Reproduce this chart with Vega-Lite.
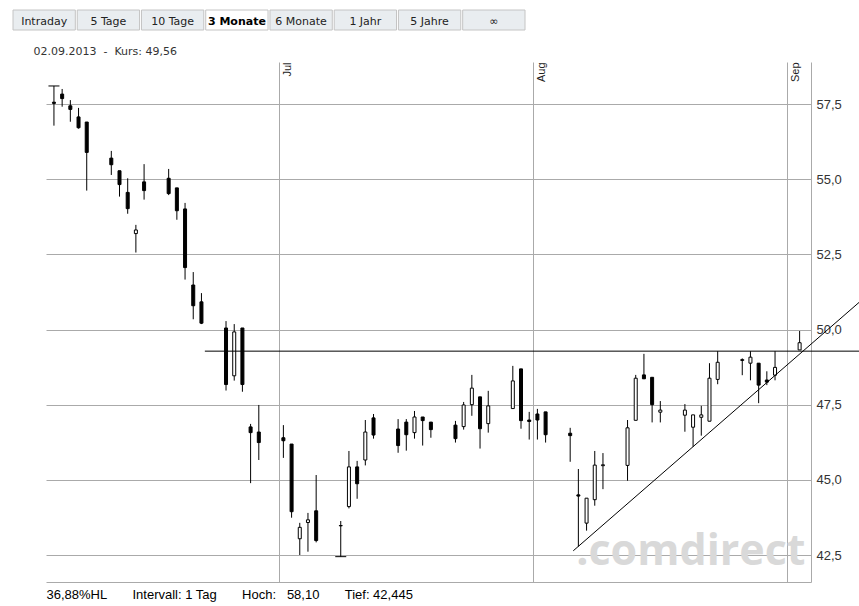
{
  "$schema": "https://vega.github.io/schema/vega-lite/v6.json",
  "width": 765,
  "height": 520,
  "autosize": {"type": "none"},
  "padding": {"left": 46, "top": 62, "right": 48, "bottom": 24},
  "background": "white",
  "config": {"view": {"stroke": null}, "font": "Liberation Sans"},
  "datasets": {
    "tabs": [
      {"tab": "Intraday"}, {"tab": "5 Tage"}, {"tab": "10 Tage"}, {"tab": "3 Monate"},
      {"tab": "6 Monate"}, {"tab": "1 Jahr"}, {"tab": "5 Jahre"}, {"tab": "∞"}
    ],
    "candles": [
      {"date": "2013-06-03T12:00", "open": 57.56, "high": 58.10, "low": 56.78, "close": 57.52},
      {"date": "2013-06-04T12:00", "open": 57.83, "high": 58.00, "low": 57.41, "close": 57.68},
      {"date": "2013-06-05T12:00", "open": 57.44, "high": 57.63, "low": 56.91, "close": 57.32},
      {"date": "2013-06-06T12:00", "open": 57.07, "high": 57.37, "low": 56.68, "close": 56.71},
      {"date": "2013-06-07T12:00", "open": 56.90, "high": 56.90, "low": 54.62, "close": 55.89},
      {"date": "2013-06-10T12:00", "open": 55.70, "high": 55.94, "low": 55.14, "close": 55.48},
      {"date": "2013-06-11T12:00", "open": 55.28, "high": 55.28, "low": 54.42, "close": 54.82},
      {"date": "2013-06-12T12:00", "open": 54.56, "high": 55.03, "low": 53.85, "close": 54.02},
      {"date": "2013-06-13T12:00", "open": 53.19, "high": 53.48, "low": 52.56, "close": 53.31},
      {"date": "2013-06-14T12:00", "open": 54.91, "high": 55.50, "low": 54.32, "close": 54.62},
      {"date": "2013-06-17T12:00", "open": 55.03, "high": 55.34, "low": 54.47, "close": 54.52},
      {"date": "2013-06-18T12:00", "open": 54.71, "high": 54.71, "low": 53.65, "close": 53.95},
      {"date": "2013-06-19T12:00", "open": 54.01, "high": 54.21, "low": 51.66, "close": 52.06},
      {"date": "2013-06-20T12:00", "open": 51.48, "high": 51.91, "low": 50.34, "close": 50.79},
      {"date": "2013-06-21T12:00", "open": 50.92, "high": 51.21, "low": 50.18, "close": 50.21},
      {"date": "2013-06-24T12:00", "open": 50.05, "high": 50.28, "low": 47.97, "close": 48.17},
      {"date": "2013-06-25T12:00", "open": 48.46, "high": 50.18, "low": 48.30, "close": 49.92},
      {"date": "2013-06-26T12:00", "open": 50.05, "high": 50.05, "low": 47.93, "close": 48.17},
      {"date": "2013-06-27T12:00", "open": 46.76, "high": 46.86, "low": 44.89, "close": 46.57},
      {"date": "2013-06-28T12:00", "open": 46.59, "high": 47.49, "low": 45.66, "close": 46.24},
      {"date": "2013-07-01T12:00", "open": 46.40, "high": 46.82, "low": 45.73, "close": 46.30},
      {"date": "2013-07-02T12:00", "open": 46.19, "high": 46.19, "low": 43.74, "close": 43.94},
      {"date": "2013-07-03T12:00", "open": 43.04, "high": 43.57, "low": 42.50, "close": 43.42},
      {"date": "2013-07-04T12:00", "open": 43.58, "high": 43.90, "low": 42.61, "close": 43.67},
      {"date": "2013-07-05T12:00", "open": 43.97, "high": 45.16, "low": 42.92, "close": 42.98},
      {"date": "2013-07-08T12:00", "open": 43.48, "high": 43.63, "low": 42.445, "close": 43.47},
      {"date": "2013-07-09T12:00", "open": 44.11, "high": 45.96, "low": 44.05, "close": 45.43},
      {"date": "2013-07-10T12:00", "open": 45.43, "high": 45.63, "low": 44.37, "close": 44.87},
      {"date": "2013-07-11T12:00", "open": 45.66, "high": 46.99, "low": 45.48, "close": 46.59},
      {"date": "2013-07-12T12:00", "open": 47.06, "high": 47.19, "low": 46.37, "close": 46.49},
      {"date": "2013-07-15T12:00", "open": 46.69, "high": 47.02, "low": 45.90, "close": 46.14},
      {"date": "2013-07-16T12:00", "open": 46.92, "high": 47.02, "low": 45.97, "close": 46.50},
      {"date": "2013-07-17T12:00", "open": 46.57, "high": 47.29, "low": 46.37, "close": 47.09},
      {"date": "2013-07-18T12:00", "open": 47.09, "high": 47.09, "low": 46.14, "close": 46.97},
      {"date": "2013-07-19T12:00", "open": 46.92, "high": 46.92, "low": 46.40, "close": 46.67},
      {"date": "2013-07-22T12:00", "open": 46.82, "high": 46.96, "low": 46.24, "close": 46.37},
      {"date": "2013-07-23T12:00", "open": 46.77, "high": 47.59, "low": 46.67, "close": 47.49},
      {"date": "2013-07-24T12:00", "open": 47.50, "high": 48.49, "low": 47.13, "close": 48.05},
      {"date": "2013-07-25T12:00", "open": 47.76, "high": 47.76, "low": 46.04, "close": 46.70},
      {"date": "2013-07-26T12:00", "open": 46.87, "high": 47.96, "low": 46.57, "close": 47.46},
      {"date": "2013-07-29T12:00", "open": 47.37, "high": 48.79, "low": 47.37, "close": 48.29},
      {"date": "2013-07-30T12:00", "open": 48.69, "high": 48.69, "low": 46.70, "close": 46.97},
      {"date": "2013-07-31T12:00", "open": 46.99, "high": 47.26, "low": 46.34, "close": 46.94},
      {"date": "2013-08-01T12:00", "open": 47.19, "high": 47.36, "low": 46.34, "close": 46.99},
      {"date": "2013-08-02T12:00", "open": 47.26, "high": 47.26, "low": 46.24, "close": 46.50},
      {"date": "2013-08-05T12:00", "open": 46.55, "high": 46.73, "low": 45.60, "close": 46.47},
      {"date": "2013-08-06T12:00", "open": 44.50, "high": 45.36, "low": 42.78, "close": 44.46},
      {"date": "2013-08-07T12:00", "open": 43.56, "high": 44.39, "low": 43.31, "close": 44.39},
      {"date": "2013-08-08T12:00", "open": 44.34, "high": 45.96, "low": 44.14, "close": 45.49},
      {"date": "2013-08-09T12:00", "open": 45.47, "high": 45.89, "low": 44.69, "close": 45.50},
      {"date": "2013-08-12T12:00", "open": 45.48, "high": 46.99, "low": 44.97, "close": 46.73},
      {"date": "2013-08-13T12:00", "open": 46.98, "high": 48.49, "low": 46.98, "close": 48.38},
      {"date": "2013-08-14T12:00", "open": 48.49, "high": 49.19, "low": 48.36, "close": 48.36},
      {"date": "2013-08-15T12:00", "open": 48.41, "high": 48.41, "low": 46.91, "close": 47.50},
      {"date": "2013-08-16T12:00", "open": 47.25, "high": 47.62, "low": 46.91, "close": 47.32},
      {"date": "2013-08-19T12:00", "open": 47.15, "high": 47.52, "low": 46.60, "close": 47.32},
      {"date": "2013-08-20T12:00", "open": 46.75, "high": 47.16, "low": 46.10, "close": 47.16},
      {"date": "2013-08-21T12:00", "open": 47.08, "high": 47.46, "low": 46.47, "close": 47.16},
      {"date": "2013-08-22T12:00", "open": 46.95, "high": 48.88, "low": 46.95, "close": 48.38},
      {"date": "2013-08-23T12:00", "open": 48.34, "high": 49.28, "low": 48.18, "close": 48.91},
      {"date": "2013-08-26T12:00", "open": 48.97, "high": 49.04, "low": 48.48, "close": 49.00},
      {"date": "2013-08-27T12:00", "open": 48.88, "high": 49.28, "low": 48.31, "close": 49.08},
      {"date": "2013-08-28T12:00", "open": 48.88, "high": 48.88, "low": 47.55, "close": 48.15},
      {"date": "2013-08-29T12:00", "open": 48.32, "high": 48.61, "low": 48.15, "close": 48.25},
      {"date": "2013-08-30T12:00", "open": 48.48, "high": 49.28, "low": 48.31, "close": 48.74},
      {"date": "2013-09-02T12:00", "open": 49.32, "high": 49.95, "low": 49.32, "close": 49.56}
    ],
    "extremes": [
      {"date": "2013-06-03T12:00", "value": 58.10},
      {"date": "2013-07-08T12:00", "value": 42.445}
    ],
    "lines": [
      {"t0": "2013-06-21T22:00", "v0": 49.28, "t1": "2013-09-10T00:00", "v1": 49.28},
      {"t0": "2013-08-05T21:00", "v0": 42.64, "t1": "2013-09-10T00:00", "v1": 50.96}
    ]
  },
  "layer": [
    {
      "data": {"name": "tabs"},
      "encoding": {
        "x": {"field": "tab", "type": "nominal", "sort": null, "axis": null,
              "scale": {"domain": ["Intraday", "5 Tage", "10 Tage", "3 Monate", "6 Monate", "1 Jahr", "5 Jahre", "∞"],
                        "range": [-33, 479], "paddingInner": 0.03, "paddingOuter": 0}}
      },
      "layer": [
        {
          "mark": {"type": "rect", "stroke": "#c4c4c4", "strokeWidth": 1},
          "encoding": {
            "y": {"value": -52},
            "y2": {"value": -32},
            "fill": {"condition": {"test": "datum.tab === '3 Monate'", "value": "#ffffff"}, "value": "#e9edf0"}
          }
        },
        {
          "transform": [{"filter": "datum.tab !== '3 Monate'"}],
          "mark": {"type": "text", "font": "DejaVu Sans", "fontSize": 11, "baseline": "alphabetic", "color": "#222222"},
          "encoding": {"text": {"field": "tab"}, "y": {"value": -37}}
        },
        {
          "transform": [{"filter": "datum.tab === '3 Monate'"}],
          "mark": {"type": "text", "font": "DejaVu Sans", "fontSize": 11, "fontWeight": "bold", "baseline": "alphabetic", "color": "#000000"},
          "encoding": {"text": {"field": "tab"}, "y": {"value": -37}}
        }
      ]
    },
    {
      "encoding": {
        "x": {"type": "temporal",
              "scale": {"domain": [{"year": 2013, "month": 6, "date": 2, "hours": 12, "minutes": 43},
                                   {"year": 2013, "month": 9, "date": 3, "hours": 21, "minutes": 21}],
                        "nice": false, "padding": 0}},
        "y": {"type": "quantitative",
              "scale": {"domain": [41.602, 58.897], "nice": false, "zero": false, "padding": 0},
              "axis": {"orient": "right", "values": [42.5, 45, 47.5, 50, 52.5, 55, 57.5],
                       "labelExpr": "replace(format(datum.value, '.1f'), '.', ',')",
                       "grid": true, "gridColor": "#aaaaaa", "gridOpacity": 1,
                       "domain": true, "domainColor": "#aaaaaa", "ticks": false,
                       "labelPadding": 5, "labelFont": "Liberation Sans", "labelFontSize": 13,
                       "labelColor": "#333333",
                       "title": ".comdirect", "titleAngle": 0, "titleX": -6, "titleY": 502,
                       "titleAlign": "right", "titleBaseline": "alphabetic", "titleFont": "Open Sans",
                       "titleFontSize": 43, "titleFontWeight": "bold", "titleColor": "#d9d9d9"}}
      },
      "layer": [
        {
          "data": {"name": "candles"},
          "mark": {"type": "rule", "color": "black", "strokeWidth": 1},
          "encoding": {
            "x": {"field": "date", "type": "temporal",
                  "axis": {"orient": "top",
                           "values": [{"year": 2013, "month": 7, "date": 1}, {"year": 2013, "month": 8, "date": 1}, {"year": 2013, "month": 9, "date": 1}],
                           "format": "%b", "grid": true, "gridColor": "#aaaaaa", "gridOpacity": 1,
                           "domain": false, "ticks": false, "tickSize": 0,
                           "labelAngle": -90, "labelAlign": "right", "labelBaseline": "top",
                           "labelPadding": 0, "labelOffset": 2, "labelFont": "Liberation Sans",
                           "labelFontSize": 11, "labelColor": "#222222", "labelFlush": false,
                           "labelOverlap": false, "labelBound": false,
                           "title": "02.09.2013\u00a0\u00a0-\u00a0\u00a0Kurs: 49,56",
                           "titleX": -13, "titleY": -8, "titleAngle": 0, "titleAlign": "left",
                           "titleBaseline": "alphabetic", "titleFont": "DejaVu Sans", "titleFontSize": 11,
                           "titleFontWeight": "normal", "titleColor": "#333333"}},
            "y": {"field": "low"},
            "y2": {"field": "high"}
          }
        },
        {
          "data": {"name": "candles"},
          "mark": {"type": "bar", "width": 3, "stroke": "black", "strokeWidth": 1},
          "encoding": {
            "x": {"field": "date", "type": "temporal", "axis": null},
            "y": {"field": "open"},
            "y2": {"field": "close"},
            "fill": {"condition": {"test": "datum.close > datum.open", "value": "white"}, "value": "black"}
          }
        },
        {
          "data": {"name": "extremes"},
          "mark": {"type": "tick", "orient": "horizontal", "size": 11, "thickness": 1, "color": "black", "opacity": 1},
          "encoding": {
            "x": {"field": "date", "type": "temporal", "axis": null},
            "y": {"field": "value"}
          }
        },
        {
          "data": {"name": "lines"},
          "mark": {"type": "rule", "color": "black", "strokeWidth": 1},
          "encoding": {
            "x": {"field": "t0", "type": "temporal",
                  "axis": {"orient": "bottom", "domain": true, "domainColor": "#aaaaaa", "labels": false,
                           "ticks": false, "grid": false,
                           "title": "36,88%HL\u00a0\u00a0\u00a0\u00a0\u00a0\u00a0\u00a0Intervall: 1 Tag\u00a0\u00a0\u00a0\u00a0\u00a0\u00a0\u00a0Hoch:\u00a0\u00a0\u00a058,10\u00a0\u00a0\u00a0\u00a0\u00a0\u00a0\u00a0Tief:\u00a042,445",
                           "titleX": 0, "titleY": 16, "titleAngle": 0, "titleAlign": "left",
                           "titleBaseline": "alphabetic", "titleFont": "Liberation Sans", "titleFontSize": 13,
                           "titleFontWeight": "normal", "titleColor": "#000000"}},
            "x2": {"field": "t1"},
            "y": {"field": "v0"},
            "y2": {"field": "v1"}
          }
        }
      ],
      "resolve": {"axis": {"x": "independent"}}
    }
  ],
  "resolve": {"scale": {"x": "independent"}}
}
